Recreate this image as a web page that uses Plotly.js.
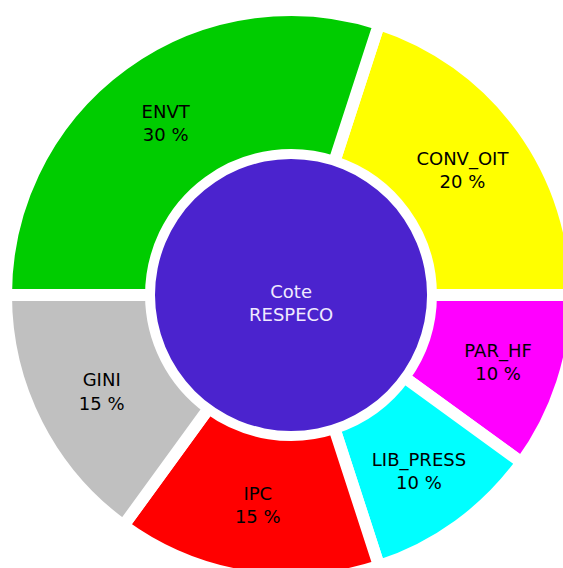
<!DOCTYPE html>
<html>
<head>
<meta charset="utf-8">
<script src="https://cdn.plot.ly/plotly-3.0.1.min.js"></script>
<style>
html,body{margin:0;padding:0;overflow:hidden;background:#fff;width:563px;height:568px;}
#chart{width:576px;height:580px;}
</style>
</head>
<body>
<div id="chart"></div>
<script>
// Data (clockwise from the slice starting just right of 12 o'clock)
var labels = ["CONV_OIT", "PAR_HF", "LIB_PRESS", "IPC", "GINI", "ENVT"];
var values = [20, 10, 10, 15, 15, 30];
var colors = ["#FFFF00", "#FF00FF", "#00FFFF", "#FF0000", "#C0C0C0", "#00CC00"];
var centerLabel = "Cote<br>RESPECO";
var centerValue = [1];

var ring = {
  type: "pie",
  labels: labels,
  values: values,
  sort: false,
  direction: "clockwise",
  rotation: 18,
  hole: 0.491,
  domain: {x: [0, 1], y: [0, 1]},
  marker: {colors: colors, line: {color: "#FFFFFF", width: 12}},
  texttemplate: "%{label}<br>%{value} %",
  textposition: "inside",
  insidetextorientation: "horizontal",
  insidetextfont: {family: "DejaVu Sans", size: 18, color: "#000000"},
  hoverinfo: "none",
  showlegend: false
};

var center = {
  type: "pie",
  labels: ["center"],
  values: centerValue,
  textinfo: "none",
  sort: false,
  domain: {x: [0.2614, 0.7386], y: [0.2614, 0.7386]},
  marker: {colors: ["#4B23CE"], line: {width: 0}},
  hoverinfo: "none",
  showlegend: false
};

var layout = {
  width: 576,
  height: 580,
  margin: {l: 6, r: 0, t: 10, b: 0, pad: 0},
  paper_bgcolor: "#FFFFFF",
  plot_bgcolor: "#FFFFFF",
  showlegend: false,
  annotations: [{
    text: centerLabel, xref: "paper", yref: "paper",
    x: 0.5, y: 0.486, xanchor: "center", yanchor: "middle",
    showarrow: false,
    font: {family: "DejaVu Sans", size: 18, color: "#F0EAFF"}
  }],
  shapes: [{
    type: "circle", xref: "paper", yref: "paper", layer: "below",
    x0: -0.007, x1: 1.007, y0: -0.007, y1: 1.007,
    line: {color: "#F0F0F0", width: 1}
  }]
};

Plotly.newPlot("chart", [ring, center], layout, {displayModeBar: false, staticPlot: true});
</script>
</body>
</html>
